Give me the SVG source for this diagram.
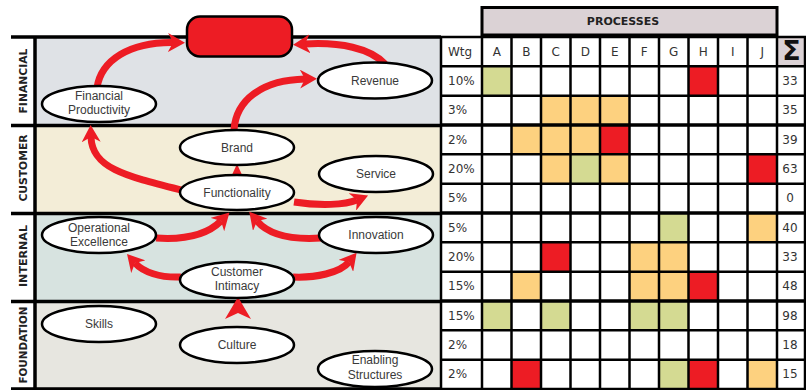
<svg xmlns="http://www.w3.org/2000/svg" width="806" height="390" viewBox="0 0 806 390">
<style>
.band-lbl{font-family:"DejaVu Sans",sans-serif;font-weight:bold;font-size:11px;fill:#222;text-anchor:middle}
.node ellipse{fill:#fff;stroke:#000;stroke-width:2.5}
.node text{font-family:"Liberation Sans",Arial,sans-serif;font-size:12px;fill:#3a3a3a;text-anchor:middle}
.arr{fill:none;stroke:#ed1c24;stroke-width:7}
.head{fill:#ed1c24}
.tt{font-family:"DejaVu Sans",sans-serif;font-size:12px;fill:#333}
.tc{text-anchor:middle}
.g{fill:#d4da92}.o{fill:#fdd17f}.r{fill:#ed1c24}
.grid{stroke:#000;stroke-width:2.5;fill:none}
.sec{stroke:#000;stroke-width:3.5;fill:none}
</style>
<defs>
<marker id="ah" markerUnits="userSpaceOnUse" markerWidth="17" markerHeight="19" viewBox="0 0 17 19" refX="5" refY="9.5" orient="auto"><path d="M0,0 L17,9.5 L0,19 L5,9.5 Z" fill="#ed1c24"/></marker>
</defs>
<rect width="806" height="390" fill="#fff"/>
<g id="bands">
<rect x="35" y="37" width="406" height="88.5" fill="#dfe2e6"/>
<rect x="35" y="125.5" width="406" height="88" fill="#f3edd7"/>
<rect x="35" y="213.5" width="406" height="88" fill="#d7e3e0"/>
<rect x="35" y="301.5" width="406" height="87.5" fill="#e7e6e0"/>
<path class="sec" d="M11,37H441M11,125.5H441M11,213.5H441M11,301.5H441M11,389H441M35,37V389"/>
<text class="band-lbl" transform="translate(27,81) rotate(-90)" textLength="65" lengthAdjust="spacingAndGlyphs">FINANCIAL</text>
<text class="band-lbl" transform="translate(27,168) rotate(-90)" textLength="67" lengthAdjust="spacingAndGlyphs">CUSTOMER</text>
<text class="band-lbl" transform="translate(27,256) rotate(-90)" textLength="62" lengthAdjust="spacingAndGlyphs">INTERNAL</text>
<text class="band-lbl" transform="translate(27,345) rotate(-90)" textLength="77" lengthAdjust="spacingAndGlyphs">FOUNDATION</text>
</g>
<g id="connectors">
<path class="arr" marker-end="url(#ah)" d="M97,88 C101,60 130,42 173,42.5"/>
<path class="arr" marker-end="url(#ah)" d="M385,64 C370,48 340,42 305,44"/>
<path class="arr" marker-end="url(#ah)" d="M234,130 C236,100 262,80 305,79"/>
<path class="arr" marker-end="url(#ah)" d="M181,190 C125,176 92,168 91,137"/>
<path class="arr" marker-end="url(#ah)" d="M294,202 C320,206 345,205 357,200"/>
<path class="arr" marker-end="url(#ah)" d="M156,238 C185,240 208,234 221,221"/>
<path class="arr" marker-end="url(#ah)" d="M321,238 C290,240 268,234 257,221"/>
<path class="arr" marker-end="url(#ah)" d="M181,277 C160,278 143,272 135,263"/>
<path class="arr" marker-end="url(#ah)" d="M293,277 C315,278 340,273 349,262"/>
<polygon class="head" points="237,164 243,177 231,177"/>
<polygon class="head" points="238,297 251,319 238,313 225,319"/>
</g>
<g id="goal"><rect x="187" y="16.5" width="105" height="40" rx="13" fill="#ed1c24" stroke="#000" stroke-width="2.5"/></g>
<g id="financial-productivity" class="node"><ellipse cx="99" cy="104" rx="57" ry="18"/><text x="99" y="100">Financial</text><text x="99" y="113.5">Productivity</text></g>
<g id="revenue" class="node"><ellipse cx="375" cy="80.5" rx="57" ry="18"/><text x="375" y="84.5">Revenue</text></g>
<g id="brand" class="node"><ellipse cx="237" cy="147.5" rx="57" ry="17.5"/><text x="237" y="151.5">Brand</text></g>
<g id="service" class="node"><ellipse cx="376" cy="174" rx="57" ry="18"/><text x="376" y="178">Service</text></g>
<g id="functionality" class="node"><ellipse cx="237" cy="192.5" rx="57" ry="17.5"/><text x="237" y="196.5">Functionality</text></g>
<g id="operational-excellence" class="node"><ellipse cx="99" cy="235" rx="57" ry="18"/><text x="99" y="231.5">Operational</text><text x="99" y="245.5">Excellence</text></g>
<g id="innovation" class="node"><ellipse cx="376" cy="235" rx="57" ry="18"/><text x="376" y="239">Innovation</text></g>
<g id="customer-intimacy" class="node"><ellipse cx="237" cy="280" rx="57" ry="18"/><text x="237" y="276">Customer</text><text x="237" y="290">Intimacy</text></g>
<g id="skills" class="node"><ellipse cx="99" cy="324" rx="57" ry="18"/><text x="99" y="328">Skills</text></g>
<g id="culture" class="node"><ellipse cx="237" cy="345" rx="57" ry="18"/><text x="237" y="349">Culture</text></g>
<g id="enabling-structures" class="node"><ellipse cx="375" cy="369" rx="57" ry="18"/><text x="375" y="364">Enabling</text><text x="375" y="378.5">Structures</text></g>
<g id="table">
<rect x="482" y="7.5" width="295" height="27.5" fill="#dbd2d5" stroke="#000" stroke-width="3"/>
<text x="623" y="25" style="font-family:'DejaVu Sans',sans-serif;font-weight:bold;font-size:11px;fill:#222;text-anchor:middle">PROCESSES</text>
<rect x="441" y="37" width="365" height="352" fill="#fff"/>
<rect x="777" y="37" width="29" height="29.3" fill="#dbd2d5"/>
<g id="cells">
<rect class="g" x="482" y="66.3" width="29.5" height="29.4"/><rect class="r" x="688.5" y="66.3" width="29.5" height="29.4"/>
<rect class="o" x="541" y="95.7" width="29.5" height="29.4"/><rect class="o" x="570.5" y="95.7" width="29.5" height="29.4"/><rect class="o" x="600" y="95.7" width="29.5" height="29.4"/>
<rect class="o" x="511.5" y="125" width="29.5" height="29.4"/><rect class="o" x="541" y="125" width="29.5" height="29.4"/><rect class="o" x="570.5" y="125" width="29.5" height="29.4"/><rect class="r" x="600" y="125" width="29.5" height="29.4"/>
<rect class="o" x="541" y="154.3" width="29.5" height="29.4"/><rect class="g" x="570.5" y="154.3" width="29.5" height="29.4"/><rect class="o" x="600" y="154.3" width="29.5" height="29.4"/><rect class="r" x="747.5" y="154.3" width="29.5" height="29.4"/>
<rect class="g" x="659" y="213" width="29.5" height="29.4"/><rect class="o" x="747.5" y="213" width="29.5" height="29.4"/>
<rect class="r" x="541" y="242.3" width="29.5" height="29.4"/><rect class="o" x="629.5" y="242.3" width="29.5" height="29.4"/><rect class="o" x="659" y="242.3" width="29.5" height="29.4"/>
<rect class="o" x="511.5" y="271.7" width="29.5" height="29.4"/><rect class="o" x="629.5" y="271.7" width="29.5" height="29.4"/><rect class="o" x="659" y="271.7" width="29.5" height="29.4"/><rect class="r" x="688.5" y="271.7" width="29.5" height="29.4"/>
<rect class="g" x="482" y="301" width="29.5" height="29.4"/><rect class="g" x="541" y="301" width="29.5" height="29.4"/><rect class="g" x="629.5" y="301" width="29.5" height="29.4"/><rect class="g" x="659" y="301" width="29.5" height="29.4"/>
<rect class="r" x="511.5" y="359.7" width="29.5" height="29.4"/><rect class="g" x="659" y="359.7" width="29.5" height="29.4"/><rect class="r" x="688.5" y="359.7" width="29.5" height="29.4"/><rect class="o" x="747.5" y="359.7" width="29.5" height="29.4"/>
</g>
<path class="grid" d="M441,37H806M441,66.3H806M441,95.7H806M441,154.3H806M441,183.7H806M441,242.3H806M441,271.7H806M441,330.3H806M441,359.7H806M441,389H806
M441,37V389M482,37V389M511.5,37V389M541,37V389M570.5,37V389M600,37V389M629.5,37V389M659,37V389M688.5,37V389M718,37V389M747.5,37V389M777,37V389M805,37V389"/>
<path class="sec" d="M441,125H806M441,213H806M441,301H806"/>
<g class="tt">
<text x="448" y="55.7">Wtg</text>
<text class="tc" x="496.75" y="55.7">A</text><text class="tc" x="526.25" y="55.7">B</text><text class="tc" x="555.75" y="55.7">C</text><text class="tc" x="585.25" y="55.7">D</text><text class="tc" x="614.75" y="55.7">E</text><text class="tc" x="644.25" y="55.7">F</text><text class="tc" x="673.75" y="55.7">G</text><text class="tc" x="703.25" y="55.7">H</text><text class="tc" x="732.75" y="55.7">I</text><text class="tc" x="762.25" y="55.7">J</text>
<text x="448" y="85">10%</text><text x="448" y="114.3">3%</text><text x="448" y="143.7">2%</text><text x="448" y="173">20%</text><text x="448" y="202.3">5%</text><text x="448" y="231.7">5%</text><text x="448" y="261">20%</text><text x="448" y="290.3">15%</text><text x="448" y="319.7">15%</text><text x="448" y="349">2%</text><text x="448" y="378.3">2%</text>
<text class="tc" x="790" y="85">33</text><text class="tc" x="790" y="114.3">35</text><text class="tc" x="790" y="143.7">39</text><text class="tc" x="790" y="173">63</text><text class="tc" x="790" y="202.3">0</text><text class="tc" x="790" y="231.7">40</text><text class="tc" x="790" y="261">33</text><text class="tc" x="790" y="290.3">48</text><text class="tc" x="790" y="319.7">98</text><text class="tc" x="790" y="349">18</text><text class="tc" x="790" y="378.3">15</text>
</g>
<text x="791.5" y="60" style="font-family:'DejaVu Sans',sans-serif;font-weight:900;font-size:27px;fill:#111;text-anchor:middle">Σ</text>
</g>
</svg>
